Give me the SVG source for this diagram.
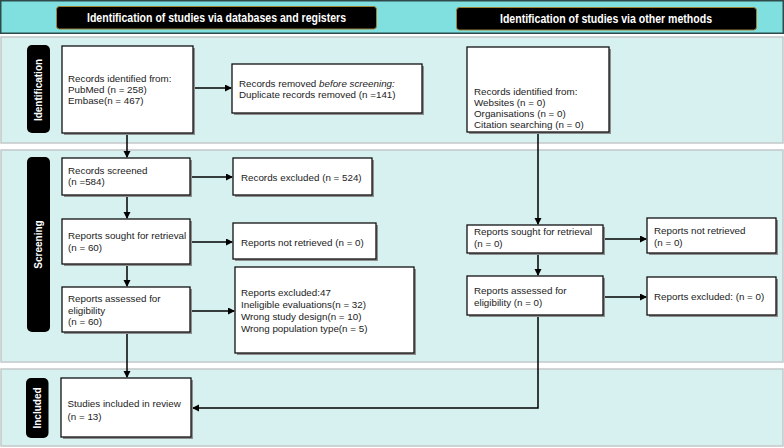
<svg xmlns="http://www.w3.org/2000/svg" width="784" height="448" viewBox="0 0 784 448">
<style>
.panel{fill:#d7f1f1;stroke:#c4c8c8;stroke-width:1.5}
.box{fill:#fff;stroke:#111;stroke-width:1.3}
.shadow{fill:#8f8f8f}
.lbl{fill:#000}
.t{font-family:"Liberation Sans",Arial,sans-serif;font-size:9.8px;fill:#222}
.vt{font-family:"Liberation Sans",Arial,sans-serif;font-size:10px;font-weight:bold;fill:#fff;text-anchor:middle}
.ht{font-family:"Liberation Sans",Arial,sans-serif;font-size:12px;font-weight:bold;fill:#fff;text-anchor:middle}
.hbox{fill:#000;stroke:#a08238;stroke-width:1}
.c{fill:none;stroke:#000;stroke-width:1.5}
</style>
<defs>
<marker id="ah" markerWidth="8" markerHeight="8" refX="6" refY="3.5" orient="auto" markerUnits="userSpaceOnUse">
<path d="M0,0 L7,3.5 L0,7 Z" fill="#000"/>
</marker>
</defs>
<rect x="0" y="0" width="784" height="448" fill="#fff"/>
<g id="header">
<rect x="0.75" y="0.75" width="782.5" height="32.5" fill="#7fe0df" stroke="#2f4a4a" stroke-width="1.5"/>
<rect class="hbox" x="56.5" y="6.5" width="320" height="22.5" rx="3"/>
<text class="ht" x="216.5" y="22" textLength="259" lengthAdjust="spacingAndGlyphs">Identification of studies via databases and registers</text>
<rect class="hbox" x="456.5" y="7.5" width="300" height="22.5" rx="3"/>
<text class="ht" x="606" y="23" textLength="212" lengthAdjust="spacingAndGlyphs">Identification of studies via other methods</text>
</g>
<g id="panels">
<rect class="panel" x="1" y="37" width="782" height="106"/>
<rect class="panel" x="1" y="150" width="782" height="212"/>
<rect class="panel" x="1" y="369" width="782" height="77"/>
</g>
<g id="stage-identification">
<rect class="lbl" x="27" y="45" width="23" height="88" rx="5"/>
<text class="vt" transform="translate(42,90) rotate(-90)">Identification</text>
</g>
<g id="stage-screening">
<rect class="lbl" x="27" y="157" width="23" height="175" rx="5"/>
<text class="vt" transform="translate(42,244.5) rotate(-90)">Screening</text>
</g>
<g id="stage-included">
<rect class="lbl" x="26" y="378" width="22.5" height="60" rx="5"/>
<text class="vt" transform="translate(41,408) rotate(-90)">Included</text>
</g>
<g id="connectors">
<line class="c" x1="193" y1="88" x2="231" y2="88" marker-end="url(#ah)"/>
<line class="c" x1="127" y1="133" x2="127" y2="157" marker-end="url(#ah)"/>
<line class="c" x1="192" y1="177" x2="232" y2="177" marker-end="url(#ah)"/>
<line class="c" x1="127" y1="195" x2="127" y2="218" marker-end="url(#ah)"/>
<line class="c" x1="192" y1="242" x2="232" y2="242" marker-end="url(#ah)"/>
<line class="c" x1="127" y1="264" x2="127" y2="286" marker-end="url(#ah)"/>
<line class="c" x1="192" y1="311" x2="234" y2="311" marker-end="url(#ah)"/>
<line class="c" x1="127" y1="332" x2="127" y2="377" marker-end="url(#ah)"/>
<line class="c" x1="538" y1="132" x2="538" y2="224" marker-end="url(#ah)"/>
<line class="c" x1="605" y1="239" x2="646" y2="239" marker-end="url(#ah)"/>
<line class="c" x1="538" y1="253" x2="538" y2="275" marker-end="url(#ah)"/>
<line class="c" x1="605" y1="297" x2="646" y2="297" marker-end="url(#ah)"/>
<polyline class="c" points="538,315 538,408 193,408" marker-end="url(#ah)"/>
</g>
<g id="n-records-db">
<rect class="shadow" x="64" y="48" width="131" height="87"/>
<rect class="box" x="62" y="46" width="131" height="87"/>
<text class="t"><tspan x="68" y="82">Records identified from:</tspan><tspan x="68" y="93">PubMed (n = 258)</tspan><tspan x="68" y="104">Embase(n = 467)</tspan></text>
</g>
<g id="n-removed">
<rect class="shadow" x="234" y="66" width="190" height="49"/>
<rect class="box" x="232" y="64" width="190" height="49"/>
<text class="t"><tspan x="239" y="86.8">Records removed <tspan font-style="italic">before screening:</tspan></tspan><tspan x="239" y="97.8">Duplicate records removed  (n =141)</tspan></text>
</g>
<g id="n-records-other">
<rect class="shadow" x="469" y="49" width="142" height="85"/>
<rect class="box" x="467" y="47" width="142" height="85"/>
<text class="t"><tspan x="474" y="95.2">Records identified from:</tspan><tspan x="474" y="106.2">Websites (n = 0)</tspan><tspan x="474" y="117.2">Organisations (n = 0)</tspan><tspan x="474" y="128">Citation searching (n = 0)</tspan></text>
</g>
<g id="n-screened">
<rect class="shadow" x="64" y="160" width="128" height="37"/>
<rect class="box" x="62" y="158" width="128" height="37"/>
<text class="t"><tspan x="68" y="173.5">Records screened</tspan><tspan x="68" y="185.2">(n =584)</tspan></text>
</g>
<g id="n-excluded">
<rect class="shadow" x="235" y="160" width="139" height="37"/>
<rect class="box" x="233" y="158" width="139" height="37"/>
<text class="t" x="241" y="180.5">Records excluded (n = 524)</text>
</g>
<g id="n-sought">
<rect class="shadow" x="64" y="221" width="128" height="45"/>
<rect class="box" x="62" y="219" width="128" height="45"/>
<text class="t"><tspan x="68" y="239.2">Reports sought for retrieval</tspan><tspan x="68" y="251.2">(n = 60)</tspan></text>
</g>
<g id="n-not-retrieved">
<rect class="shadow" x="235" y="225" width="143" height="36"/>
<rect class="box" x="233" y="223" width="143" height="36"/>
<text class="t" x="241" y="245.5">Reports not retrieved (n = 0)</text>
</g>
<g id="n-assessed">
<rect class="shadow" x="64" y="289" width="128" height="45"/>
<rect class="box" x="62" y="287" width="128" height="45"/>
<text class="t"><tspan x="68" y="301.8">Reports assessed for</tspan><tspan x="68" y="313.8">eligibility</tspan><tspan x="68" y="325.2">(n = 60)</tspan></text>
</g>
<g id="n-reports-excluded">
<rect class="shadow" x="237" y="269" width="179" height="86"/>
<rect class="box" x="235" y="267" width="179" height="86"/>
<text class="t"><tspan x="241" y="296.2">Reports excluded:47</tspan><tspan x="241" y="307.7">Ineligible evaluations(n = 32)</tspan><tspan x="241" y="319.5">Wrong study design(n = 10)</tspan><tspan x="241" y="331.5">Wrong population type(n = 5)</tspan></text>
</g>
<g id="n-sought-other">
<rect class="shadow" x="469" y="227" width="136" height="28"/>
<rect class="box" x="467" y="225" width="136" height="28"/>
<text class="t"><tspan x="474" y="234.5">Reports sought for retrieval</tspan><tspan x="474" y="246.5">(n = 0)</tspan></text>
</g>
<g id="n-not-retrieved-other">
<rect class="shadow" x="649" y="220" width="129" height="35"/>
<rect class="box" x="647" y="218" width="129" height="35"/>
<text class="t"><tspan x="654" y="234">Reports not retrieved</tspan><tspan x="654" y="246">(n = 0)</tspan></text>
</g>
<g id="n-assessed-other">
<rect class="shadow" x="469" y="278" width="136" height="39"/>
<rect class="box" x="467" y="276" width="136" height="39"/>
<text class="t"><tspan x="474" y="293.5">Reports assessed for</tspan><tspan x="474" y="305.5">eligibility (n = 0)</tspan></text>
</g>
<g id="n-excluded-other">
<rect class="shadow" x="649" y="279" width="129" height="38"/>
<rect class="box" x="647" y="277" width="129" height="38"/>
<text class="t" x="654" y="300">Reports excluded: (n = 0)</text>
</g>
<g id="n-included">
<rect class="shadow" x="63" y="380" width="130" height="59"/>
<rect class="box" x="61" y="378" width="130" height="59"/>
<text class="t"><tspan x="67.5" y="406.8">Studies included in review</tspan><tspan x="67.5" y="419.5">(n = 13)</tspan></text>
</g>
</svg>
